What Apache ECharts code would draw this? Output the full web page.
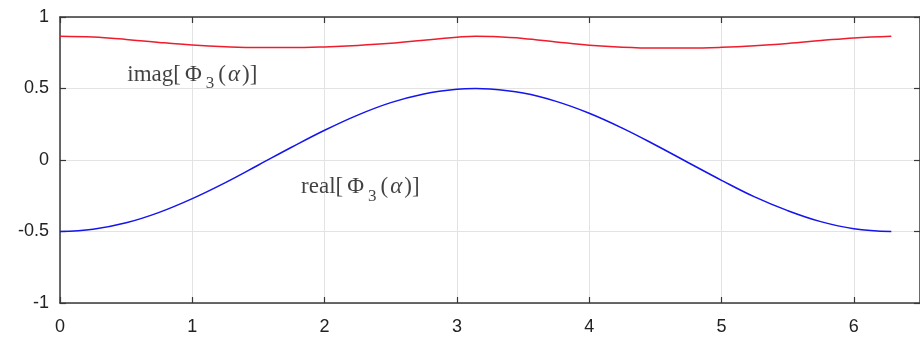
<!DOCTYPE html>
<html><head><meta charset="utf-8">
<script src="https://cdn.jsdelivr.net/npm/echarts@6/dist/echarts.min.js"></script>
<style>html,body{margin:0;padding:0;background:#fff}#c{width:920px;height:340px}</style>
</head><body><div id="c"></div>
<script>
const alpha = [0, 0.25, 0.5, 0.75, 1.0, 1.25, 1.5, 1.75, 2.0, 2.25, 2.5, 2.75, 3.0, 3.1416, 3.25, 3.5, 3.75, 4.0, 4.25, 4.5, 4.75, 5.0, 5.25, 5.5, 5.75, 6.0, 6.2832];
const realVals = [-0.500, -0.484, -0.439, -0.366, -0.270, -0.158, -0.035, 0.089, 0.208, 0.314, 0.401, 0.462, 0.495, 0.500, 0.497, 0.468, 0.410, 0.327, 0.223, 0.105, -0.019, -0.142, -0.258, -0.354, -0.431, -0.480, -0.500];
const imagVals = [0.866, 0.860, 0.843, 0.822, 0.804, 0.792, 0.786, 0.786, 0.791, 0.801, 0.816, 0.838, 0.858, 0.866, 0.864, 0.850, 0.826, 0.803, 0.789, 0.783, 0.783, 0.788, 0.799, 0.815, 0.835, 0.854, 0.866];
const xTicks = [0, 1, 2, 3, 4, 5, 6];
const yTicks = [-1, -0.5, 0, 0.5, 1];
const labels = [
  {x: 1.0, y: 0.595, text: '{t|imag[}{p|Φ}{s|3}{t|(}{a|α}{t|)]}'},
  {x: 2.27, y: -0.19, text: '{t|real[}{p|Φ}{s|3}{t|(}{a|α}{t|)]}'}
];

const axisColor = '#383838';
const gridColor = '#e3e3e3';
const chart = echarts.init(document.getElementById('c'));
const mk = (xs, ys) => xs.map((x, i) => [x, ys[i]]);
const base = {fontFamily: 'Liberation Serif', fontSize: 23, color: '#111', lineHeight: 28};
const rich = {
  t: base,
  p: Object.assign({}, base, {padding: [0, 3, 0, 4]}),
  a: Object.assign({}, base, {fontStyle: 'italic', padding: [0, 2, 0, 2]}),
  s: {fontFamily: 'Liberation Serif', fontSize: 17, color: '#111', lineHeight: 17, padding: [18, 4, 0, 1]}
};
const axisCommon = {
  axisLine: {show: true, onZero: false, lineStyle: {color: axisColor, width: 1.5}},
  axisTick: {show: true, inside: true, length: 6, lineStyle: {color: axisColor, width: 1.2}}
};
chart.setOption({
  animation: false,
  grid: {left: 60, top: 17, width: 869, height: 286},
  xAxis: [Object.assign({
    type: 'value', min: 0, max: 6.5, interval: 1,
    axisLabel: {color: '#222', fontFamily: 'Liberation Sans', fontSize: 18, margin: 15, showMaxLabel: false,
      formatter: v => xTicks.includes(v) ? String(v) : ''},
    splitLine: {show: true, lineStyle: {color: gridColor, width: 1}}
  }, axisCommon), Object.assign({
    type: 'value', position: 'top', min: 0, max: 6.5, interval: 1,
    axisLabel: {show: false}, splitLine: {show: false}
  }, axisCommon)],
  yAxis: [Object.assign({
    type: 'value', min: -1, max: 1, interval: 0.5,
    axisLabel: {color: '#222', fontFamily: 'Liberation Sans', fontSize: 18, margin: 11,
      formatter: v => yTicks.includes(v) ? String(v) : ''},
    splitLine: {show: true, lineStyle: {color: gridColor, width: 1}}
  }, axisCommon), Object.assign({
    type: 'value', position: 'right', min: -1, max: 1, interval: 0.5,
    axisLabel: {show: false}, splitLine: {show: false}
  }, axisCommon)],
  series: [
    {type: 'line', data: mk(alpha, imagVals), smooth: 0.4, showSymbol: false,
      lineStyle: {color: '#ee1c2c', width: 1.5}, z: 3},
    {type: 'line', data: mk(alpha, realVals), smooth: 0.4, showSymbol: false,
      lineStyle: {color: '#1414ee', width: 1.5}, z: 3},
    {type: 'scatter', data: labels.map(l => [l.x, l.y]), symbolSize: 0, silent: true,
      label: {show: true, position: 'inside', formatter: p => labels[p.dataIndex].text, rich: rich}}
  ]
});
</script></body></html>
